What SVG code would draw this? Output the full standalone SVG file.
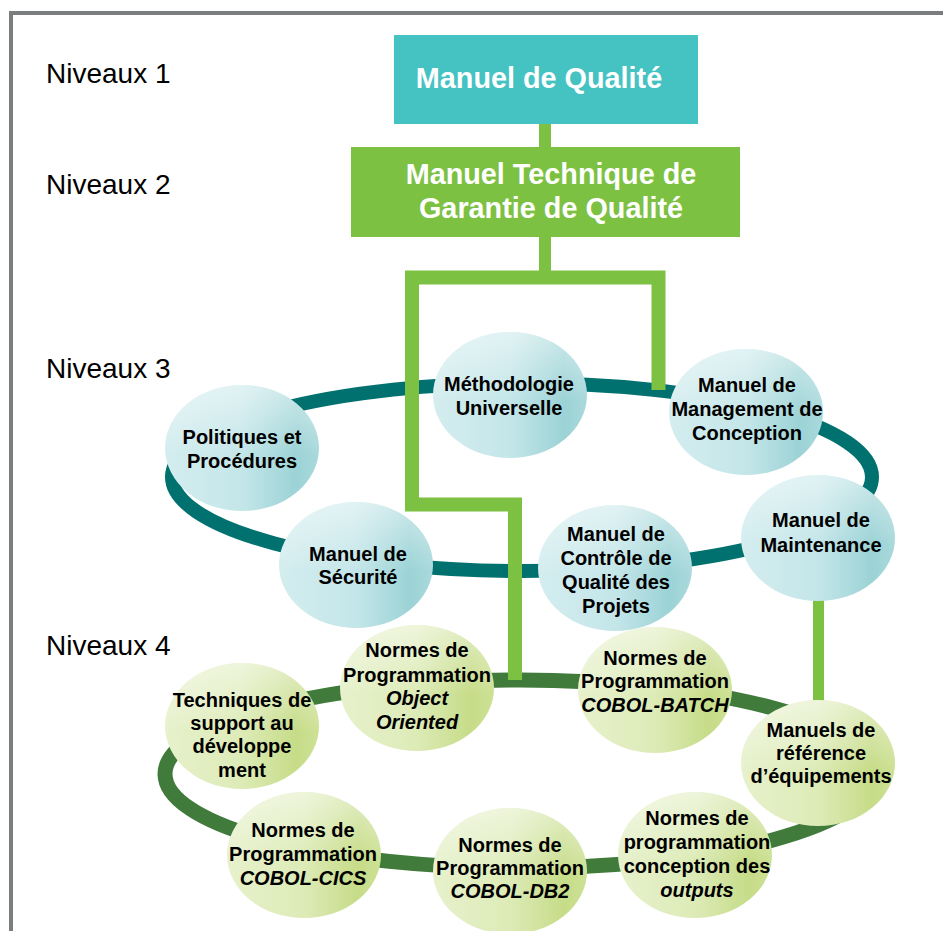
<svg xmlns="http://www.w3.org/2000/svg" width="943" height="931" viewBox="0 0 943 931">
<defs>
<linearGradient id="gTeal" x1="0" y1="0" x2="1" y2="0">
<stop offset="0" stop-color="#D4EDEF"/>
<stop offset="0.5" stop-color="#C4E6E9"/>
<stop offset="0.85" stop-color="#9CD3D6"/>
<stop offset="1" stop-color="#A9D9DC"/>
</linearGradient>
<linearGradient id="gGreen" x1="0" y1="0" x2="1" y2="0">
<stop offset="0" stop-color="#E7F1CC"/>
<stop offset="0.5" stop-color="#DDEBB7"/>
<stop offset="0.85" stop-color="#C6DC88"/>
<stop offset="1" stop-color="#CDE195"/>
</linearGradient>
<linearGradient id="gHi" x1="0" y1="0" x2="0" y2="1">
<stop offset="0" stop-color="#FFFFFF" stop-opacity="0.5"/>
<stop offset="0.55" stop-color="#FFFFFF" stop-opacity="0"/>
</linearGradient>
</defs>
<style>
.frame{fill:none;stroke:#7A7E7E;stroke-width:4}
.lvl{font-family:"Liberation Sans",Arial,sans-serif;font-size:28px;fill:#000}
.box1{fill:#45C2C2}
.box2{fill:#7DC142}
.bt{font-family:"Liberation Sans",Arial,sans-serif;font-size:28.8px;font-weight:bold;fill:#FFFFFF;text-anchor:middle}
.ring3{fill:none;stroke:#00716F;stroke-width:14}
.ring4{fill:none;stroke:#407B3B;stroke-width:15}
.link{fill:none;stroke:#7DC142;stroke-linejoin:miter;stroke-linecap:butt}
.e3{fill:url(#gTeal)}
.e4{fill:url(#gGreen)}
.hi{fill:url(#gHi)}
.t{font-family:"Liberation Sans",Arial,sans-serif;font-size:20px;font-weight:bold;fill:#000;text-anchor:middle}
.i{font-style:italic}
</style>
<rect x="0" y="0" width="943" height="931" fill="#FFFFFF"/>
<path class="frame" d="M11 931 V13 H943"/>

<g id="labels">
<text class="lvl" x="46" y="83">Niveaux 1</text>
<text class="lvl" x="46" y="194">Niveaux 2</text>
<text class="lvl" x="46" y="378">Niveaux 3</text>
<text class="lvl" x="46" y="655">Niveaux 4</text>
</g>

<g id="connectors">
<ellipse class="ring3" cx="522" cy="477" rx="350" ry="94"/>
<ellipse class="ring4" cx="520" cy="774" rx="355" ry="94"/>
<path class="link" stroke-width="12" d="M545 122 V148"/>
<path class="link" stroke-width="12" d="M545 236 V278"/>
<path class="link" stroke-width="14" d="M658.5 390 V277.5 H412 V504.5 H515 V680"/>
<path class="link" stroke-width="11" d="M818.5 598 V702"/>
</g>

<g id="n-qualite">
<rect class="box1" x="394" y="35" width="304" height="89"/>
<text class="bt" x="539" y="88">Manuel de Qualité</text>
</g>
<g id="n-technique">
<rect class="box2" x="351" y="147" width="389" height="90"/>
<text class="bt" x="551" y="184">Manuel Technique de</text>
<text class="bt" x="551" y="218">Garantie de Qualité</text>
</g>

<g id="n-techniques">
<ellipse class="e4" cx="242" cy="726" rx="77" ry="63"/><ellipse class="hi" cx="242" cy="726" rx="77" ry="63"/>
<text class="t" x="242" y="707">Techniques de</text>
<text class="t" x="242" y="730">support au</text>
<text class="t" x="242" y="753">développe</text>
<text class="t" x="242" y="777">ment</text>
</g>
<g id="n-oo">
<ellipse class="e4" cx="417" cy="688" rx="77" ry="63"/><ellipse class="hi" cx="417" cy="688" rx="77" ry="63"/>
<text class="t" x="417" y="657">Normes de</text>
<text class="t" x="417" y="682">Programmation</text>
<text class="t i" x="417" y="705">Object</text>
<text class="t i" x="417" y="729">Oriented</text>
</g>
<g id="n-batch">
<ellipse class="e4" cx="655" cy="690" rx="77" ry="63"/><ellipse class="hi" cx="655" cy="690" rx="77" ry="63"/>
<text class="t" x="655" y="665">Normes de</text>
<text class="t" x="655" y="688">Programmation</text>
<text class="t i" x="655" y="712">COBOL-BATCH</text>
</g>
<g id="n-equipements">
<ellipse class="e4" cx="818" cy="763" rx="77" ry="63"/><ellipse class="hi" cx="818" cy="763" rx="77" ry="63"/>
<text class="t" x="821" y="737">Manuels de</text>
<text class="t" x="821" y="760">référence</text>
<text class="t" x="821" y="783">d’équipements</text>
</g>
<g id="n-outputs">
<ellipse class="e4" cx="695" cy="855" rx="77" ry="63"/><ellipse class="hi" cx="695" cy="855" rx="77" ry="63"/>
<text class="t" x="697" y="825">Normes de</text>
<text class="t" x="697" y="849">programmation</text>
<text class="t" x="697" y="873">conception des</text>
<text class="t i" x="697" y="897">outputs</text>
</g>
<g id="n-db2">
<ellipse class="e4" cx="510" cy="871" rx="77" ry="63"/><ellipse class="hi" cx="510" cy="871" rx="77" ry="63"/>
<text class="t" x="510" y="852">Normes de</text>
<text class="t" x="510" y="875">Programmation</text>
<text class="t i" x="510" y="898">COBOL-DB2</text>
</g>
<g id="n-cics">
<ellipse class="e4" cx="304" cy="855" rx="77" ry="63"/><ellipse class="hi" cx="304" cy="855" rx="77" ry="63"/>
<text class="t" x="303" y="837">Normes de</text>
<text class="t" x="303" y="861">Programmation</text>
<text class="t i" x="303" y="885">COBOL-CICS</text>
</g>

<g id="n-politiques">
<ellipse class="e3" cx="242" cy="448" rx="77" ry="63"/><ellipse class="hi" cx="242" cy="448" rx="77" ry="63"/>
<text class="t" x="242" y="444">Politiques et</text>
<text class="t" x="242" y="468">Procédures</text>
</g>
<g id="n-methodologie">
<ellipse class="e3" cx="510" cy="395" rx="77" ry="63"/><ellipse class="hi" cx="510" cy="395" rx="77" ry="63"/>
<text class="t" x="509" y="391">Méthodologie</text>
<text class="t" x="509" y="415">Universelle</text>
</g>
<g id="n-management">
<ellipse class="e3" cx="746" cy="412" rx="77" ry="63"/><ellipse class="hi" cx="746" cy="412" rx="77" ry="63"/>
<text class="t" x="747" y="392">Manuel de</text>
<text class="t" x="747" y="416">Management de</text>
<text class="t" x="747" y="440">Conception</text>
</g>
<g id="n-maintenance">
<ellipse class="e3" cx="818" cy="538" rx="77" ry="63"/><ellipse class="hi" cx="818" cy="538" rx="77" ry="63"/>
<text class="t" x="821" y="527">Manuel de</text>
<text class="t" x="821" y="552">Maintenance</text>
</g>
<g id="n-controle">
<ellipse class="e3" cx="615" cy="568" rx="77" ry="63"/><ellipse class="hi" cx="615" cy="568" rx="77" ry="63"/>
<text class="t" x="616" y="541">Manuel de</text>
<text class="t" x="616" y="565">Contrôle de</text>
<text class="t" x="616" y="589">Qualité des</text>
<text class="t" x="616" y="613">Projets</text>
</g>
<g id="n-securite">
<ellipse class="e3" cx="356" cy="565" rx="77" ry="63"/><ellipse class="hi" cx="356" cy="565" rx="77" ry="63"/>
<text class="t" x="358" y="561">Manuel de</text>
<text class="t" x="358" y="584">Sécurité</text>
</g>
</svg>
